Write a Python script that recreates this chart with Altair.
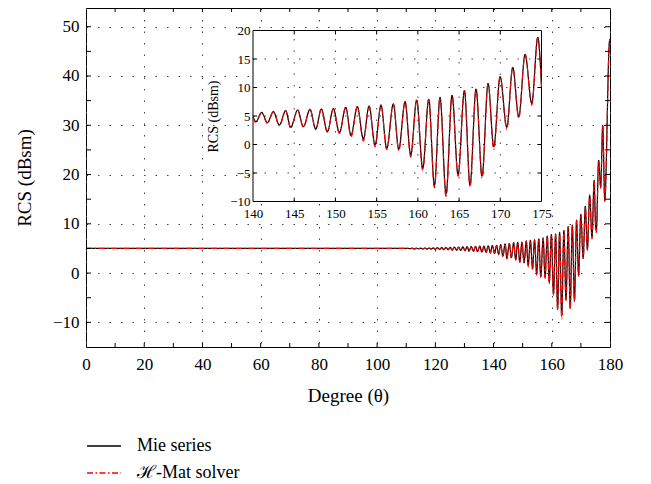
import altair as alt
import pandas as pd

# ---------------- data ----------------
deg = [0, 10, 20, 30, 40, 50, 60, 70, 80, 90, 100, 105,
       110.0, 110.6, 111.3, 112.05, 112.8, 113.5, 114.2, 114.95, 115.7, 116.4,
       117.1, 117.85, 118.6, 119.3, 120.0, 120.75, 121.5, 122.2, 122.9, 123.65,
       124.4, 125.1, 125.8, 126.55, 127.3, 128.0, 128.7, 129.45, 130.2, 130.9,
       131.6, 132.35, 133.1, 133.8, 134.5, 135.25, 136.0, 136.7, 137.45, 138.15,
       138.9, 139.6, 140.0, 140.35, 141.05, 141.74, 142.47, 143.2, 143.96, 144.57,
       145.42, 146.11, 146.92, 147.61, 148.29, 149.02, 149.75, 150.48, 151.25, 151.89,
       152.66, 153.39, 154.08, 154.81, 155.53, 156.22, 157.03, 157.68, 158.45, 159.13,
       159.86, 160.59, 161.32, 162.01, 162.69, 163.42, 164.15, 164.88, 165.65, 166.33,
       167.06, 167.79, 168.52, 169.21, 169.98, 170.79, 171.51, 172.24, 173.01, 173.82,
       174.55, 175.0, 175.3, 176.1, 176.8, 177.5, 178.2, 179.8, 180.0]

mie = [5.0, 5.0, 5.0, 5.0, 5.0, 5.0, 5.0, 5.0, 5.0, 5.0, 5.0, 5.0,
       5.0, 5.03, 4.96, 5.05, 4.94, 5.06, 4.93, 5.07, 4.92, 5.08,
       4.9, 5.1, 4.88, 5.12, 4.85, 5.15, 4.82, 5.18, 4.78, 5.2,
       4.74, 5.23, 4.7, 5.26, 4.65, 5.3, 4.6, 5.33, 4.55, 5.36,
       4.5, 5.4, 4.44, 5.43, 4.38, 5.46, 4.3, 5.5, 4.22, 5.53,
       4.12, 5.58, 4.88, 4.0, 5.64, 3.83, 5.76, 3.42, 5.94, 3.01,
       6.05, 3.13, 6.17, 2.72, 6.23, 2.25, 6.29, 2.08, 6.52, 1.61,
       6.64, 0.97, 6.75, -0.08, 6.93, -0.67, 7.11, -0.85, 7.51, -1.84,
       7.81, -4.18, 7.92, -7.22, 8.27, -8.68, 8.63, -5.35, 9.45, -7.11,
       9.74, -5.53, 10.73, -0.38, 11.9, 3.01, 13.54, 4.88, 15.82, 7.22,
       18.8, 10.15, 8.6, 22.9, 17.5, 30.0, 14.8, 47.0, 47.5]

hmat = [5.0, 5.0, 5.0, 5.0, 5.0, 5.0, 5.0, 5.0, 5.0, 5.0, 5.0, 5.0,
        5.0, 5.03, 4.9, 5.05, 4.85, 5.06, 4.9, 5.07, 4.88, 5.08,
        4.86, 5.1, 4.8, 5.12, 4.8, 5.15, 4.78, 5.18, 4.72, 5.2,
        4.7, 5.23, 4.6, 5.26, 4.6, 5.3, 4.55, 5.33, 4.5, 5.36,
        4.4, 5.4, 4.38, 5.43, 4.3, 5.46, 4.25, 5.5, 4.1, 5.53,
        4.05, 5.58, 4.8, 3.8, 5.6, 3.7, 5.72, 3.3, 5.9, 2.9,
        6.0, 3.0, 6.12, 2.6, 6.2, 2.15, 6.25, 1.95, 6.48, 1.3,
        6.6, 0.6, 6.72, -0.4, 6.9, -0.9, 7.08, -1.1, 7.48, -2.2,
        7.78, -4.6, 7.9, -7.6, 8.24, -9.3, 8.6, -5.6, 9.42, -7.4,
        9.7, -5.9, 10.7, -0.9, 11.85, 2.7, 13.5, 4.6, 15.78, 6.9,
        18.75, 10.0, 8.2, 22.8, 17.2, 29.9, 14.5, 46.9, 47.4]

assert len(deg) == len(mie) == len(hmat)

series_names = ["Mie series", "\u210b-Mat solver"]
series_colors = ["black", "red"]
series_dash = [[1, 0], [6, 2.5, 1.5, 2.5]]

main_x_domain = [0, 180]
main_y_domain = [-15, 53.8]
main_x_labels = [0, 20, 40, 60, 80, 100, 120, 140, 160, 180]
main_y_labels = [-10, 0, 10, 20, 30, 40, 50]
main_x_ticks = [10, 20, 30, 40, 50, 60, 70, 80, 90, 100, 110, 120, 130, 140, 150, 160, 170]
main_y_ticks = [-10, -5, 0, 5, 10, 15, 20, 25, 30, 35, 40, 45, 50]

inset_x_domain = [140, 175]
inset_y_domain = [-10, 20]
inset_x_labels = [140, 145, 150, 155, 160, 165, 170, 175]
inset_y_labels = [-10, -5, 0, 5, 10, 15, 20]
inset_x_inner = [145, 150, 155, 160, 165, 170]
inset_y_inner = [-5, 0, 5, 10, 15]

# ---------------- layout / style ----------------
W, H = 524, 339
INSET_X_RANGE = [167, 455.5]
INSET_Y_RANGE = [193.5, 22.5]
FONT = "Liberation Serif"
GRID_DASH = [1.5, 10]
GRID_COLOR = "#444444"
TICK_LEN = 4

df_mie = pd.DataFrame({"deg": deg, "val": mie, "series": series_names[0]})
df_hmat = pd.DataFrame({"deg": deg, "val": hmat, "series": series_names[1]})


def in_inset(d):
    return d[(d["deg"] >= inset_x_domain[0]) & (d["deg"] <= inset_x_domain[1])]


legend = alt.Legend(title=None, orient="none", legendX=0, legendY=420,
                    symbolType="stroke", symbolSize=1156, symbolStrokeWidth=1.3,
                    labelFontSize=18, labelFont=FONT, labelColor="black",
                    labelOffset=15, rowPadding=-7)
color_enc = alt.Color("series:N", scale=alt.Scale(domain=series_names, range=series_colors), legend=legend)
dash_enc = alt.StrokeDash("series:N", scale=alt.Scale(domain=series_names, range=series_dash), legend=legend)

xs_main = alt.Scale(domain=main_x_domain, nice=False, zero=False)
ys_main = alt.Scale(domain=main_y_domain, nice=False, zero=False)
xs_in = alt.Scale(domain=inset_x_domain, range=INSET_X_RANGE, nice=False, zero=False)
ys_in = alt.Scale(domain=inset_y_domain, range=INSET_Y_RANGE, nice=False, zero=False)

main_x_axis = alt.Axis(values=main_x_labels, title="Degree (\u03b8)", grid=True, gridDash=GRID_DASH,
                       gridColor=GRID_COLOR, gridWidth=1, ticks=False, domain=False,
                       labelFontSize=17, titleFontSize=19, labelPadding=9, titlePadding=14,
                       labelFlush=False, labelOverlap=False)
main_y_axis = alt.Axis(values=main_y_labels, title="RCS (dBsm)", grid=True, gridDash=GRID_DASH,
                       gridColor=GRID_COLOR, gridWidth=1, ticks=False, domain=False,
                       labelFontSize=17, titleFontSize=19, labelPadding=7, titlePadding=18,
                       labelOverlap=False)
inset_x_axis = alt.Axis(values=inset_x_labels, title=None, orient="bottom", offset=-(H - INSET_Y_RANGE[0]),
                        grid=False, ticks=False, domain=False, labelFontSize=13, labelPadding=6,
                        labelFlush=False, labelOverlap=False)
inset_y_axis = alt.Axis(values=inset_y_labels, title="RCS (dBsm)", orient="left", offset=-INSET_X_RANGE[0],
                        grid=False, ticks=False, domain=False, labelFontSize=13, labelPadding=3,
                        titleFontSize=14, titlePadding=9, labelOverlap=False)


def lines(d, xs, ys, xa, ya):
    return alt.Chart(d).mark_line(strokeWidth=1.2, interpolate="monotone").encode(
        x=alt.X("deg:Q", scale=xs, axis=xa),
        y=alt.Y("val:Q", scale=ys, axis=ya),
        color=color_enc, strokeDash=dash_enc)


rule = dict(color="black", strokeWidth=1)

# ---- main panel ----
main_mie = lines(df_mie, xs_main, ys_main, main_x_axis, main_y_axis)
main_hmat = lines(df_hmat, xs_main, ys_main, main_x_axis, main_y_axis)

mx = pd.DataFrame({"t": main_x_ticks})
my = pd.DataFrame({"t": main_y_ticks})
t_bottom = alt.Chart(mx).mark_rule(**rule).encode(
    x=alt.X("t:Q", scale=xs_main, axis=main_x_axis), y=alt.value(H), y2=alt.value(H - TICK_LEN))
t_top = alt.Chart(mx).mark_rule(**rule).encode(
    x=alt.X("t:Q", scale=xs_main, axis=main_x_axis), y=alt.value(0), y2=alt.value(TICK_LEN))
t_left = alt.Chart(my).mark_rule(**rule).encode(
    y=alt.Y("t:Q", scale=ys_main, axis=main_y_axis), x=alt.value(0), x2=alt.value(TICK_LEN + 1))
t_right = alt.Chart(my).mark_rule(**rule).encode(
    y=alt.Y("t:Q", scale=ys_main, axis=main_y_axis), x=alt.value(W), x2=alt.value(W - TICK_LEN - 1))

main_layer = alt.layer(main_mie, main_hmat, t_bottom, t_top, t_left, t_right)

# ---- inset panel ----
box = alt.Chart(pd.DataFrame({"x0": [inset_x_domain[0]], "x1": [inset_x_domain[1]],
                              "y0": [inset_y_domain[0]], "y1": [inset_y_domain[1]]})).mark_rect(
    fill="white", stroke="black", strokeWidth=1).encode(
    x=alt.X("x0:Q", scale=xs_in, axis=inset_x_axis), x2="x1",
    y=alt.Y("y0:Q", scale=ys_in, axis=inset_y_axis), y2="y1")

gx = pd.DataFrame({"t": inset_x_inner, "a": inset_y_domain[0], "b": inset_y_domain[1]})
gy = pd.DataFrame({"t": inset_y_inner, "a": inset_x_domain[0], "b": inset_x_domain[1]})
grid_v = alt.Chart(gx).mark_rule(color=GRID_COLOR, strokeDash=GRID_DASH, strokeWidth=1).encode(
    x=alt.X("t:Q", scale=xs_in, axis=inset_x_axis), y=alt.Y("a:Q", scale=ys_in, axis=inset_y_axis), y2="b")
grid_h = alt.Chart(gy).mark_rule(color=GRID_COLOR, strokeDash=GRID_DASH, strokeWidth=1).encode(
    y=alt.Y("t:Q", scale=ys_in, axis=inset_y_axis), x=alt.X("a:Q", scale=xs_in, axis=inset_x_axis), x2="b")

ix_len = 0.7   # tick length in y units (about 4 px)
iy_len = 0.5   # tick length in x units (about 4 px)
tb = pd.DataFrame({"t": inset_x_inner, "a": inset_y_domain[0], "b": inset_y_domain[0] + ix_len})
tt = pd.DataFrame({"t": inset_x_inner, "a": inset_y_domain[1], "b": inset_y_domain[1] - ix_len})
tl = pd.DataFrame({"t": inset_y_inner, "a": inset_x_domain[0], "b": inset_x_domain[0] + iy_len})
tr = pd.DataFrame({"t": inset_y_inner, "a": inset_x_domain[1], "b": inset_x_domain[1] - iy_len})


def itick_v(d):
    return alt.Chart(d).mark_rule(**rule).encode(
        x=alt.X("t:Q", scale=xs_in, axis=inset_x_axis),
        y=alt.Y("a:Q", scale=ys_in, axis=inset_y_axis), y2="b")


def itick_h(d):
    return alt.Chart(d).mark_rule(**rule).encode(
        y=alt.Y("t:Q", scale=ys_in, axis=inset_y_axis),
        x=alt.X("a:Q", scale=xs_in, axis=inset_x_axis), x2="b")


inset_mie = lines(in_inset(df_mie), xs_in, ys_in, inset_x_axis, inset_y_axis)
inset_hmat = lines(in_inset(df_hmat), xs_in, ys_in, inset_x_axis, inset_y_axis)

inset_layer = alt.layer(box, grid_v, grid_h, itick_v(tb), itick_v(tt), itick_h(tl), itick_h(tr),
                        inset_mie, inset_hmat)

chart = alt.layer(main_layer, inset_layer).resolve_scale(
    x="independent", y="independent"
).properties(
    width=W, height=H,
    autosize=alt.AutoSizeParams(type="none"),
    padding={"left": 78, "top": 0, "right": 20, "bottom": 137},
).configure(
    font=FONT
).configure_view(
    stroke="black", strokeWidth=1
).configure_axis(
    labelFont=FONT, titleFont=FONT, labelColor="black", titleColor="black",
    titleFontWeight="normal"
)

chart.save("out.html", embed_options={"renderer": "svg", "actions": False})
